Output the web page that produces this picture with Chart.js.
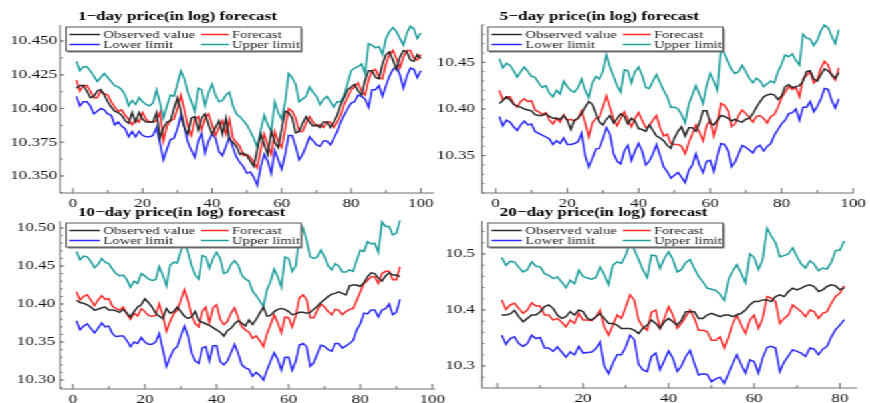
<!DOCTYPE html>
<html>
<head>
<meta charset="utf-8">
<script src="https://cdn.jsdelivr.net/npm/chart.js@4.4.0/dist/chart.umd.min.js"></script>
<style>
  html, body { margin: 0; padding: 0; background: #fff; overflow: hidden; }
  /* the reference is stretched sideways, so the whole sheet is drawn narrow and widened */
  #sheet { position: relative; width: 654px; height: 403px; transform: scaleX(1.33); transform-origin: 0 0; }
  #sheet canvas { position: absolute; }
</style>
</head>
<body>
<div id="sheet">
  <canvas id="c1"></canvas>
  <canvas id="c2"></canvas>
  <canvas id="c3"></canvas>
  <canvas id="c4"></canvas>
</div>
<script>
// ---- data ----
const seriesNames = ["Observed value", "Forecast", "Lower limit", "Upper limit"];

// 1-day forecast, x = 1..100
const p1Observed = [10.415,10.417,10.417,10.413,10.408,10.409,10.413,10.414,10.410,10.405,
  10.401,10.398,10.397,10.395,10.391,10.389,10.397,10.390,10.397,10.392,
  10.390,10.390,10.390,10.397,10.378,10.386,10.390,10.391,10.400,10.408,
  10.398,10.386,10.381,10.393,10.394,10.384,10.393,10.396,10.388,10.381,
  10.386,10.391,10.381,10.393,10.377,10.375,10.372,10.366,10.367,10.365,
  10.361,10.357,10.370,10.381,10.373,10.366,10.383,10.375,10.371,10.385,
  10.398,10.397,10.393,10.382,10.383,10.389,10.394,10.390,10.387,10.388,
  10.386,10.390,10.390,10.386,10.390,10.395,10.403,10.408,10.414,10.416,
  10.418,10.413,10.410,10.421,10.428,10.428,10.423,10.422,10.433,10.440,
  10.442,10.436,10.429,10.438,10.443,10.442,10.436,10.435,10.440,10.437];
const p1Forecast = [10.421,10.413,10.417,10.417,10.413,10.408,10.408,10.413,10.411,10.410,
  10.405,10.401,10.398,10.399,10.395,10.392,10.388,10.392,10.390,10.397,
  10.392,10.390,10.390,10.391,10.397,10.376,10.387,10.391,10.392,10.400,
  10.410,10.399,10.387,10.380,10.392,10.394,10.384,10.393,10.396,10.388,
  10.380,10.386,10.391,10.381,10.392,10.378,10.375,10.372,10.365,10.366,
  10.364,10.360,10.356,10.370,10.381,10.373,10.366,10.383,10.375,10.371,
  10.385,10.400,10.398,10.393,10.383,10.383,10.389,10.394,10.390,10.387,
  10.388,10.386,10.390,10.390,10.386,10.390,10.395,10.403,10.408,10.414,
  10.416,10.419,10.413,10.410,10.421,10.428,10.429,10.423,10.422,10.433,
  10.440,10.443,10.437,10.430,10.438,10.443,10.443,10.437,10.436,10.440];
const p1Lower = [10.409,10.402,10.405,10.405,10.402,10.396,10.398,10.400,10.399,10.396,
  10.395,10.388,10.390,10.387,10.385,10.379,10.383,10.379,10.383,10.380,
  10.379,10.379,10.380,10.386,10.374,10.362,10.370,10.377,10.378,10.385,
  10.395,10.386,10.375,10.369,10.364,10.376,10.382,10.367,10.376,10.381,
  10.378,10.368,10.365,10.372,10.379,10.371,10.364,10.360,10.357,10.352,
  10.353,10.349,10.343,10.357,10.366,10.361,10.352,10.369,10.362,10.355,
  10.366,10.380,10.380,10.372,10.362,10.366,10.372,10.379,10.376,10.373,
  10.372,10.376,10.376,10.373,10.378,10.383,10.390,10.395,10.400,10.404,
  10.405,10.410,10.409,10.407,10.401,10.414,10.414,10.417,10.409,10.417,
  10.424,10.429,10.431,10.425,10.415,10.424,10.430,10.429,10.423,10.428];
const p1Upper = [10.435,10.428,10.431,10.431,10.428,10.424,10.420,10.423,10.426,10.423,
  10.420,10.417,10.416,10.414,10.410,10.402,10.406,10.403,10.408,10.405,
  10.403,10.402,10.404,10.414,10.404,10.393,10.402,10.410,10.409,10.418,
  10.428,10.422,10.412,10.405,10.398,10.415,10.414,10.402,10.412,10.418,
  10.410,10.405,10.406,10.410,10.412,10.402,10.396,10.394,10.391,10.388,
  10.383,10.378,10.371,10.384,10.395,10.388,10.383,10.405,10.397,10.392,
  10.405,10.426,10.423,10.418,10.405,10.407,10.409,10.416,10.412,10.409,
  10.403,10.407,10.409,10.405,10.401,10.405,10.405,10.410,10.419,10.428,
  10.430,10.431,10.433,10.426,10.448,10.447,10.445,10.446,10.440,10.452,
  10.457,10.460,10.457,10.452,10.447,10.456,10.461,10.459,10.452,10.456];

// 5-day forecast, x = 1..96
const p2Observed = [10.406,10.409,10.413,10.410,10.405,10.403,10.402,10.400,10.399,10.398,
  10.394,10.393,10.393,10.395,10.392,10.390,10.390,10.389,10.393,10.388,
  10.378,10.388,10.390,10.395,10.402,10.408,10.405,10.395,10.386,10.383,
  10.389,10.393,10.385,10.390,10.395,10.392,10.384,10.390,10.387,10.379,
  10.378,10.376,10.383,10.377,10.371,10.369,10.366,10.361,10.358,10.369,
  10.376,10.381,10.371,10.380,10.380,10.376,10.385,10.398,10.398,10.385,
  10.383,10.388,10.393,10.392,10.390,10.387,10.389,10.387,10.386,10.389,
  10.390,10.395,10.402,10.408,10.413,10.415,10.416,10.415,10.410,10.414,
  10.424,10.426,10.423,10.424,10.425,10.430,10.440,10.441,10.432,10.430,
  10.437,10.443,10.441,10.437,10.433,10.439];
const p2Forecast = [10.420,10.410,10.413,10.413,10.406,10.402,10.408,10.411,10.408,10.409,
  10.399,10.397,10.394,10.396,10.388,10.384,10.390,10.386,10.394,10.388,
  10.389,10.387,10.390,10.398,10.385,10.370,10.385,10.390,10.391,10.402,
  10.414,10.402,10.389,10.382,10.390,10.397,10.389,10.381,10.390,10.396,
  10.388,10.380,10.382,10.388,10.393,10.380,10.371,10.373,10.363,10.362,
  10.362,10.360,10.352,10.364,10.373,10.383,10.375,10.366,10.382,10.388,
  10.371,10.385,10.406,10.404,10.398,10.381,10.384,10.393,10.399,10.395,
  10.391,10.386,10.392,10.393,10.390,10.385,10.392,10.394,10.402,10.412,
  10.418,10.424,10.421,10.423,10.413,10.432,10.436,10.440,10.428,10.432,
  10.444,10.451,10.447,10.436,10.431,10.444];
const p2Lower = [10.392,10.382,10.388,10.386,10.381,10.377,10.383,10.387,10.383,10.384,
  10.376,10.374,10.372,10.370,10.368,10.362,10.366,10.363,10.369,10.362,
  10.362,10.363,10.365,10.374,10.350,10.338,10.347,10.357,10.358,10.368,
  10.380,10.373,10.352,10.344,10.341,10.355,10.361,10.345,10.355,10.363,
  10.355,10.340,10.344,10.352,10.362,10.350,10.338,10.333,10.326,10.329,
  10.332,10.327,10.321,10.334,10.340,10.352,10.340,10.332,10.344,10.345,
  10.333,10.350,10.363,10.362,10.355,10.338,10.343,10.352,10.361,10.359,
  10.356,10.353,10.359,10.361,10.355,10.360,10.363,10.372,10.378,10.384,
  10.388,10.395,10.396,10.400,10.388,10.402,10.402,10.408,10.397,10.403,
  10.411,10.422,10.421,10.409,10.401,10.411];
const p2Upper = [10.454,10.444,10.449,10.447,10.441,10.434,10.440,10.445,10.440,10.435,
  10.434,10.428,10.423,10.425,10.417,10.413,10.420,10.416,10.430,10.424,
  10.420,10.418,10.423,10.432,10.420,10.412,10.428,10.435,10.432,10.440,
  10.458,10.445,10.435,10.425,10.418,10.442,10.441,10.428,10.440,10.445,
  10.436,10.423,10.422,10.430,10.437,10.428,10.420,10.413,10.402,10.402,
  10.400,10.394,10.385,10.405,10.415,10.425,10.416,10.406,10.425,10.438,
  10.430,10.420,10.465,10.459,10.450,10.442,10.438,10.440,10.447,10.440,
  10.433,10.428,10.433,10.430,10.424,10.427,10.430,10.428,10.440,10.448,
  10.458,10.456,10.459,10.452,10.447,10.480,10.476,10.475,10.468,10.474,
  10.484,10.490,10.487,10.478,10.470,10.485];

// 10-day forecast, x = 1..91
const p3Observed = [10.405,10.402,10.401,10.399,10.396,10.392,10.393,10.395,10.396,10.392,
  10.392,10.391,10.389,10.393,10.388,10.383,10.390,10.396,10.399,10.407,
  10.402,10.396,10.388,10.384,10.381,10.394,10.388,10.390,10.396,10.390,
  10.384,10.381,10.383,10.390,10.378,10.376,10.374,10.372,10.369,10.366,
  10.363,10.358,10.365,10.368,10.374,10.378,10.375,10.371,10.379,10.373,
  10.380,10.388,10.396,10.384,10.385,10.390,10.393,10.394,10.393,10.390,
  10.386,10.387,10.389,10.389,10.388,10.389,10.393,10.397,10.402,10.406,
  10.410,10.413,10.414,10.416,10.414,10.412,10.424,10.425,10.425,10.423,
  10.428,10.436,10.441,10.440,10.434,10.430,10.437,10.441,10.438,10.438,
  10.436];
const p3Forecast = [10.416,10.405,10.410,10.412,10.405,10.398,10.405,10.411,10.406,10.407,
  10.397,10.394,10.392,10.396,10.387,10.380,10.388,10.384,10.394,10.390,
  10.385,10.384,10.385,10.400,10.385,10.364,10.377,10.387,10.392,10.405,
  10.419,10.404,10.385,10.374,10.370,10.390,10.396,10.375,10.395,10.399,
  10.380,10.373,10.377,10.388,10.395,10.382,10.370,10.366,10.363,10.355,
  10.358,10.352,10.344,10.361,10.373,10.386,10.375,10.362,10.383,10.382,
  10.370,10.385,10.408,10.412,10.406,10.382,10.382,10.392,10.400,10.396,
  10.390,10.386,10.393,10.392,10.386,10.390,10.393,10.394,10.405,10.416,
  10.427,10.431,10.436,10.436,10.427,10.440,10.443,10.443,10.432,10.432,
  10.449];
const p3Lower = [10.378,10.366,10.371,10.374,10.368,10.362,10.368,10.375,10.370,10.371,
  10.361,10.357,10.358,10.358,10.352,10.344,10.350,10.348,10.356,10.350,
  10.347,10.347,10.350,10.361,10.340,10.318,10.330,10.340,10.344,10.358,
  10.371,10.358,10.335,10.325,10.322,10.342,10.344,10.325,10.345,10.345,
  10.324,10.320,10.325,10.336,10.347,10.335,10.320,10.316,10.314,10.305,
  10.310,10.306,10.300,10.313,10.325,10.336,10.327,10.313,10.330,10.330,
  10.313,10.325,10.346,10.348,10.344,10.318,10.323,10.335,10.346,10.344,
  10.340,10.338,10.348,10.348,10.342,10.345,10.348,10.352,10.366,10.374,
  10.388,10.387,10.392,10.392,10.383,10.392,10.394,10.400,10.386,10.389,
  10.406];
const p3Upper = [10.469,10.458,10.463,10.462,10.456,10.448,10.452,10.460,10.455,10.453,
  10.446,10.440,10.437,10.438,10.432,10.422,10.430,10.427,10.440,10.437,
  10.433,10.431,10.432,10.449,10.438,10.424,10.451,10.455,10.454,10.470,
  10.482,10.468,10.450,10.438,10.433,10.464,10.462,10.447,10.460,10.468,
  10.460,10.440,10.442,10.452,10.457,10.451,10.438,10.433,10.430,10.417,
  10.411,10.404,10.397,10.419,10.430,10.446,10.436,10.422,10.462,10.460,
  10.443,10.450,10.490,10.500,10.484,10.462,10.460,10.462,10.471,10.462,
  10.450,10.445,10.453,10.450,10.442,10.442,10.445,10.443,10.458,10.471,
  10.469,10.482,10.479,10.480,10.468,10.508,10.502,10.502,10.491,10.493,
  10.510];

// 20-day forecast, x = 1..81
const p4Observed = [10.391,10.391,10.393,10.399,10.388,10.379,10.385,10.391,10.391,10.397,
  10.406,10.409,10.403,10.391,10.385,10.388,10.397,10.391,10.400,10.397,
  10.385,10.382,10.388,10.394,10.385,10.376,10.376,10.373,10.367,10.367,
  10.367,10.364,10.358,10.367,10.373,10.382,10.376,10.367,10.379,10.385,
  10.379,10.373,10.382,10.397,10.397,10.397,10.385,10.385,10.391,10.394,
  10.391,10.388,10.391,10.391,10.388,10.391,10.394,10.400,10.409,10.415,
  10.415,10.418,10.418,10.415,10.424,10.427,10.424,10.433,10.439,10.436,
  10.439,10.443,10.445,10.442,10.433,10.436,10.442,10.445,10.443,10.436,
  10.440];
const p4Forecast = [10.418,10.401,10.409,10.412,10.403,10.394,10.400,10.413,10.407,10.407,
  10.391,10.391,10.382,10.385,10.378,10.370,10.382,10.376,10.394,10.382,
  10.382,10.381,10.388,10.400,10.370,10.355,10.373,10.391,10.385,10.405,
  10.427,10.418,10.382,10.370,10.364,10.396,10.400,10.367,10.385,10.406,
  10.391,10.367,10.376,10.388,10.400,10.385,10.364,10.364,10.361,10.346,
  10.346,10.352,10.332,10.352,10.376,10.391,10.373,10.358,10.382,10.391,
  10.367,10.385,10.424,10.421,10.415,10.376,10.385,10.391,10.409,10.403,
  10.397,10.388,10.400,10.397,10.385,10.394,10.397,10.412,10.424,10.430,
  10.443];
const p4Lower = [10.355,10.339,10.349,10.352,10.340,10.335,10.340,10.355,10.349,10.351,
  10.332,10.332,10.326,10.334,10.325,10.316,10.325,10.320,10.335,10.323,
  10.324,10.325,10.331,10.343,10.300,10.286,10.305,10.320,10.320,10.334,
  10.355,10.347,10.303,10.293,10.290,10.317,10.323,10.293,10.310,10.327,
  10.314,10.290,10.300,10.317,10.328,10.305,10.284,10.286,10.285,10.272,
  10.277,10.280,10.269,10.287,10.305,10.320,10.302,10.287,10.311,10.308,
  10.287,10.315,10.333,10.335,10.332,10.290,10.307,10.318,10.329,10.326,
  10.323,10.317,10.332,10.330,10.320,10.330,10.335,10.352,10.365,10.373,
  10.383];
const p4Upper = [10.494,10.480,10.487,10.486,10.476,10.468,10.472,10.486,10.478,10.477,
  10.465,10.462,10.456,10.459,10.450,10.440,10.453,10.447,10.471,10.460,
  10.457,10.455,10.458,10.477,10.463,10.445,10.480,10.486,10.483,10.498,
  10.520,10.508,10.490,10.472,10.458,10.498,10.497,10.474,10.492,10.504,
  10.490,10.468,10.472,10.485,10.490,10.474,10.460,10.450,10.439,10.437,
  10.435,10.428,10.417,10.455,10.470,10.481,10.465,10.448,10.500,10.494,
  10.472,10.490,10.546,10.532,10.520,10.495,10.497,10.500,10.511,10.495,
  10.482,10.475,10.488,10.482,10.470,10.475,10.473,10.485,10.506,10.507,
  10.523];

// tick values and labels
const p1YTicks = [10.350, 10.375, 10.400, 10.425, 10.450];
const p2YTicks = [10.35, 10.40, 10.45];
const p3YTicks = [10.30, 10.35, 10.40, 10.45, 10.50];
const p4YTicks = [10.3, 10.4, 10.5];
const xTicks100 = [0, 20, 40, 60, 80, 100];
const xLabels100 = ["0", "20", "40", "60", "80", "100"];
const p4XTicks = [0, 20, 40, 60, 80];
const p4XLabels = ["", "20", "40", "60", "80"];

// ---- drawing ----
const S = 1.33;           // sideways stretch of the sheet
const SERIF = '"Liberation Serif", "Times New Roman", serif';
const colors = ["#2b2b2b", "#ff2b2b", "#2b2bff", "#1f9e9e"];

function decor(spec) {
  return {
    id: "decor",
    afterDraw(chart) {
      const ctx = chart.ctx, a = chart.chartArea;
      const xs = chart.scales.x, ys = chart.scales.y;
      ctx.save();
      // axis lines
      ctx.strokeStyle = "#6e6e6e";
      ctx.lineWidth = 1;
      ctx.beginPath();
      ctx.moveTo(a.left, a.top);
      ctx.lineTo(a.left, a.bottom);
      ctx.lineTo(a.right, a.bottom);
      ctx.stroke();
      // inward ticks
      ctx.beginPath();
      for (let k = Math.ceil(ys.min / spec.yMinor - 1e-6); k * spec.yMinor <= ys.max; k++) {
        const py = ys.getPixelForValue(k * spec.yMinor);
        ctx.moveTo(a.left, py); ctx.lineTo(a.left + 2.5 / S, py);
      }
      spec.yTicks.forEach(v => {
        const py = ys.getPixelForValue(v);
        ctx.moveTo(a.left, py); ctx.lineTo(a.left + 4 / S, py);
      });
      for (let k = Math.ceil(xs.min / 10); k * 10 <= xs.max; k++) {
        const px = xs.getPixelForValue(k * 10);
        ctx.moveTo(px, a.bottom); ctx.lineTo(px, a.bottom - (k % 2 === 0 ? 5 : 3));
      }
      ctx.stroke();
      // title
      ctx.fillStyle = "#000";
      ctx.font = "bold 12.8px " + SERIF;
      ctx.textAlign = "left";
      ctx.textBaseline = "alphabetic";
      ctx.fillText(spec.title, a.left + 18 / S, a.top - 5);
      // legend box
      const bx = a.left + 6 / S, by = a.top + 2, bw = 235 / S, bh = 24;
      ctx.fillStyle = "#777";
      ctx.fillRect(bx + 1.5 / S, by + 1.5, bw, bh);
      ctx.fillStyle = "#fff";
      ctx.fillRect(bx, by, bw, bh);
      ctx.strokeStyle = "#555";
      ctx.lineWidth = 1;
      ctx.strokeRect(bx, by, bw, bh);
      ctx.font = "11px " + SERIF;
      ctx.textBaseline = "middle";
      const cols = [[3.5, 34, 37.5], [135, 163, 166]];
      seriesNames.forEach((name, i) => {
        const c = cols[i % 2], ry = by + (i < 2 ? 7.5 : 17.5);
        ctx.strokeStyle = colors[i];
        ctx.lineWidth = 1.5;
        ctx.beginPath();
        ctx.moveTo(bx + c[0] / S, ry); ctx.lineTo(bx + c[1] / S, ry);
        ctx.stroke();
        ctx.fillStyle = "#222";
        ctx.fillText(name, bx + c[2] / S, ry + 0.5);
      });
      ctx.restore();
    }
  };
}

function makePanel(spec) {
  const cv = document.getElementById(spec.id);
  const f = spec.frame, ar = spec.area;
  const cw = Math.round(f.width / S);
  cv.width = cw;
  cv.height = f.height;
  cv.style.left = (f.left / S) + "px";
  cv.style.top = f.top + "px";
  const yAxisW = (ar.left - f.left) / S;
  const padRight = cw - (ar.right - f.left) / S;
  const padTop = ar.top - f.top;
  const xAxisH = f.height - (ar.bottom - f.top);

  const datasets = spec.series.map((vals, i) => ({
    label: seriesNames[i],
    data: vals.map((v, j) => ({ x: j + 1, y: v })),
    borderColor: colors[i],
    borderWidth: 1.5,
    pointRadius: 0,
    tension: 0,
    clip: false
  }));

  new Chart(cv, {
    type: "line",
    data: { datasets },
    options: {
      responsive: false,
      animation: false,
      events: [],
      layout: { autoPadding: false, padding: { left: 0, right: padRight, top: padTop, bottom: 0 } },
      plugins: { legend: { display: false }, tooltip: { enabled: false }, title: { display: false } },
      scales: {
        x: {
          type: "linear",
          min: spec.xRange[0],
          max: spec.xRange[1],
          grid: { display: false, drawTicks: false },
          border: { display: false },
          afterBuildTicks: s => { s.ticks = spec.xTicks.map(v => ({ value: v })); },
          afterFit: s => { s.height = xAxisH; },
          ticks: {
            autoSkip: false,
            maxRotation: 0,
            padding: 3,
            color: "#111",
            font: { family: SERIF, size: 12.8 },
            callback: (v, idx) => spec.xLabels[idx]
          }
        },
        y: {
          min: spec.yRange[0],
          max: spec.yRange[1],
          grid: { display: false, drawTicks: false },
          border: { display: false },
          afterBuildTicks: s => { s.ticks = spec.yTicks.map(v => ({ value: v })); },
          afterFit: s => { s.width = yAxisW; },
          ticks: {
            padding: spec.yPad / S,
            color: "#111",
            font: { family: SERIF, size: 12.8 },
            callback: v => Number(v).toFixed(spec.decimals)
          }
        }
      }
    },
    plugins: [decor(spec)]
  });
}

makePanel({
  id: "c1", title: "1\u2212day price(in log) forecast",
  frame: { left: 0, top: 0, width: 440, height: 215 },
  area: { left: 60, right: 434, top: 25, bottom: 193 },
  xRange: [-3.74, 103.8], yRange: [10.3374, 10.4619],
  xTicks: xTicks100, xLabels: xLabels100, yTicks: p1YTicks, yMinor: 0.0125, decimals: 3, yPad: 3,
  series: [p1Observed, p1Forecast, p1Lower, p1Upper]
});
makePanel({
  id: "c2", title: "5\u2212day price(in log) forecast",
  frame: { left: 435, top: 0, width: 435, height: 215 },
  area: { left: 482, right: 858, top: 25, bottom: 193 },
  xRange: [-3.87, 100.2], yRange: [10.310, 10.490],
  xTicks: xTicks100, xLabels: xLabels100, yTicks: p2YTicks, yMinor: 0.01, decimals: 2, yPad: 7,
  series: [p2Observed, p2Forecast, p2Lower, p2Upper]
});
makePanel({
  id: "c3", title: "10\u2212day price(in log) forecast",
  frame: { left: 0, top: 203, width: 465, height: 200 },
  area: { left: 60, right: 435, top: 221, bottom: 389 },
  xRange: [-3.6, 100.75], yRange: [10.2882, 10.5092],
  xTicks: xTicks100, xLabels: xLabels100, yTicks: p3YTicks, yMinor: 0.01, decimals: 2, yPad: 5,
  series: [p3Observed, p3Forecast, p3Lower, p3Upper]
});
makePanel({
  id: "c4", title: "20\u2212day price(in log) forecast",
  frame: { left: 435, top: 203, width: 435, height: 200 },
  area: { left: 482, right: 857, top: 221, bottom: 388 },
  xRange: [-3.62, 84], yRange: [10.2607, 10.5589],
  xTicks: p4XTicks, xLabels: p4XLabels, yTicks: p4YTicks, yMinor: 0.02, decimals: 1, yPad: 7,
  series: [p4Observed, p4Forecast, p4Lower, p4Upper]
});
</script>
</body>
</html>
